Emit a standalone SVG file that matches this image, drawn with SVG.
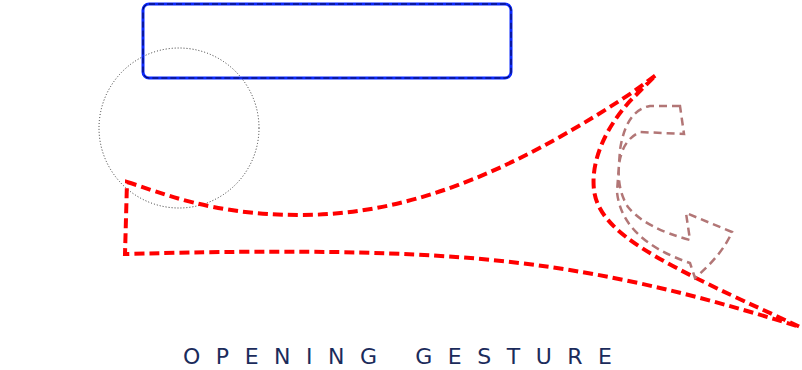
<svg xmlns="http://www.w3.org/2000/svg" width="802" height="370" viewBox="0 0 802 370">
<style>
.red{fill:none;stroke:#ff0000;stroke-width:4;stroke-dasharray:10,5;stroke-linejoin:miter}
.brown{fill:none;stroke:#b27676;stroke-width:2.5;stroke-dasharray:8,5}
.circ{fill:none;stroke:#333;stroke-width:1;stroke-dasharray:1,2}
.box{fill:none;stroke:#0a28ff;stroke-width:3}
.boxd{fill:none;stroke:#0a0a40;stroke-width:1;stroke-dasharray:6,3}
.title{font-family:"DejaVu Sans","Liberation Sans",sans-serif;font-size:22px;fill:#1b2b5b}
</style>
<g id="box">
<rect class="box" x="143" y="4" width="368" height="74" rx="6"/>
<rect class="boxd" x="143" y="4" width="368" height="74" rx="6"/>
</g>
<g id="circle">
<circle class="circ" cx="179" cy="128" r="80"/>
</g>
<g id="big-arrow">
<path class="red" d="M127,182 C160,192 210,215 300,215 C400,215 500,180 633,92 L656,75 L637,94 C612,118 590,155 594,190 C598,225 640,250 700,280 C740,300 775,315 800,327 C720,302 640,280 550,267 C460,254 350,248 125,254 Z"/>
</g>
<g id="curved-arrow">
<path class="brown" d="M680,106 L650,106 Q626,110 620,150 L617,192 Q622,240 690,263 L695,278 Q722,255 732,232 L686,213 L690,240 Q645,228 628,207 Q617,190 619,165 Q622,140 640,132 L684,134 Z"/>
</g>
<text class="title" x="183" y="364" textLength="429" lengthAdjust="spacing">OPENING GESTURE</text>
</svg>
